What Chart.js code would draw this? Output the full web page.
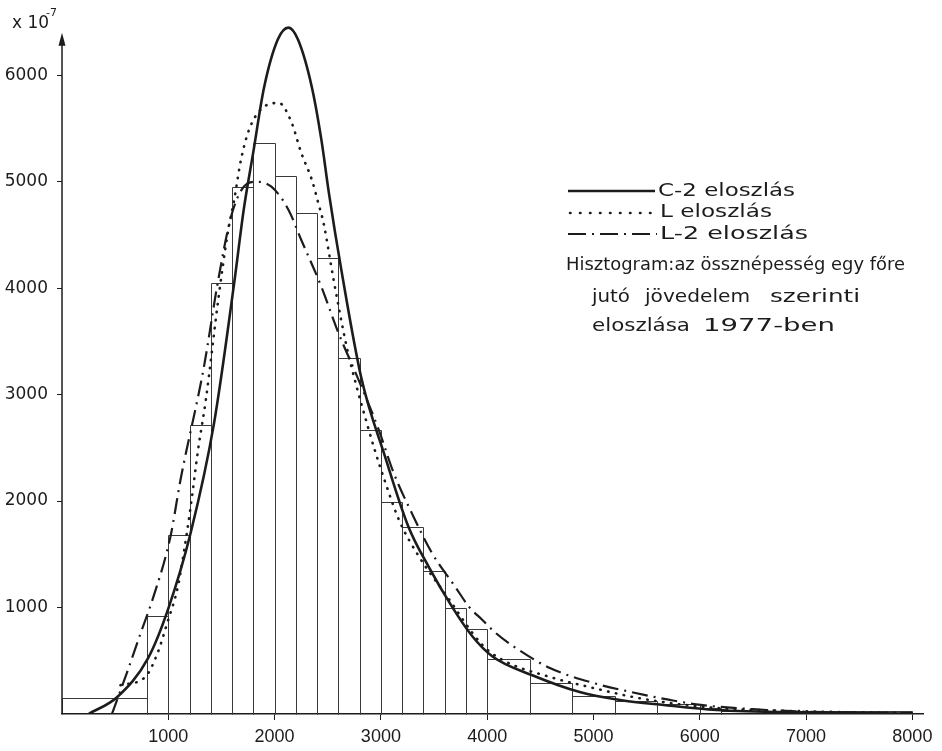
<!DOCTYPE html>
<html>
<head>
<meta charset="utf-8">
<script src="https://cdn.jsdelivr.net/npm/chart.js@4.4.0/dist/chart.umd.min.js"></script>
<style>
  html, body { margin: 0; padding: 0; background: #fff; }
  #wrap { width: 942px; height: 751px; }
</style>
</head>
<body>
<div id="wrap"><canvas id="chart" width="942" height="751"></canvas></div>
<script>
// histogram: bin edges (income) and heights (x 10^-7)
const binEdges = [0, 800, 1000, 1200, 1400, 1600, 1800, 2000, 2200, 2400, 2600, 2800, 3000,
                  3200, 3400, 3600, 3800, 4000, 4400, 4800, 5200, 5600, 6000, 6200, 8000];
const binHeights = [150, 920, 1680, 2710, 4050, 4950, 5360, 5050, 4710, 4280, 3340, 2670,
                    1990, 1760, 1345, 1000, 800, 517, 290, 170, 122, 90, 60, 25];

// C-2 eloszlás (solid)
const c2X = [250, 520, 810, 1000, 1210, 1430, 1620, 1710, 1800, 1900, 2030, 2130, 2220, 2350,
             2440, 2510, 2630, 2820, 3040, 3260, 3450, 3670, 3860, 4050, 4430, 4870, 5250, 5660, 6160, 7000, 8000];
const c2Y = [0, 160, 525, 990, 1700, 2730, 4050, 4740, 5280, 5880, 6335, 6447, 6335, 5890,
             5395, 4900, 4160, 3139, 2415, 1757, 1382, 1006, 730, 540, 362, 207, 132, 85, 38, 15, 5];

// L eloszlás (dotted)
const lX = [550, 785, 900, 990, 1090, 1145, 1210, 1280, 1353, 1470, 1560, 1620, 1684, 1760, 1870,
            2040, 2160, 2250, 2350, 2410, 2460, 2555, 2680, 2772, 2867, 2942, 3040, 3170, 3360, 3600,
            3955, 4145, 4590, 5000, 5370, 5720, 6160, 7000, 8000];
const lY = [270, 350, 575, 855, 1195, 1510, 1945, 2480, 2950, 3890, 4520, 4830, 5207, 5489, 5677,
            5740, 5555, 5273, 5019, 4803, 4615, 4079, 3440, 3073, 2735, 2480, 2180, 1823, 1476, 1137,
            648, 507, 348, 244, 160, 103, 56, 25, 8];

// L-2 eloszlás (dash-dot)
const l2X = [470, 620, 740, 850, 1020, 1115, 1335, 1465, 1590, 1710, 1826, 1970, 2130, 2250, 2440,
             2600, 2790, 2980, 3120, 3290, 3480, 3700, 3830, 3955, 4080, 4270, 4590, 5000, 5350, 5720,
             6010, 6500, 7000, 8000];
const l2Y = [0, 414, 760, 1070, 1665, 2200, 3260, 4050, 4670, 4953, 5000, 4953, 4737, 4455, 4013,
             3581, 3139, 2669, 2265, 1889, 1513, 1194, 1006, 883, 761, 620, 432, 291, 207, 132,
             85, 45, 22, 8];

const xTicks = [1000, 2000, 3000, 4000, 5000, 6000, 7000, 8000];
const yTicks = [1000, 2000, 3000, 4000, 5000, 6000];

const ink = '#1c1c1c';

function pts(xs, ys) {
    return xs.map((x, i) => ({ x: x, y: ys[i] }));
}

// draw text squeezed/stretched to a given width (the original lettering is wide)
function fitText(ctx, str, x, y, w) {
    const m = ctx.measureText(str).width;
    ctx.save();
    ctx.translate(x, y);
    ctx.scale(w / m, 1);
    ctx.fillText(str, 0, 0);
    ctx.restore();
}

const histogram = {
    id: 'histogram',
    beforeDatasetsDraw(chart) {
        const { ctx, scales: { x, y } } = chart;
        const px = v => Math.round(x.getPixelForValue(v)) + 0.5;
        const py = v => Math.round(y.getPixelForValue(v)) + 0.5;
        ctx.save();
        ctx.strokeStyle = '#3a3a3a';
        ctx.lineWidth = 1;
        const y0 = py(0);
        ctx.beginPath();
        for (let i = 0; i < binHeights.length; i++) {
            const xa = px(binEdges[i]);
            const xb = px(binEdges[i + 1]);
            const yt = py(binHeights[i]);
            ctx.moveTo(xa, y0);
            ctx.lineTo(xa, yt);
            ctx.lineTo(xb, yt);
            ctx.lineTo(xb, y0);
        }
        ctx.stroke();
        ctx.restore();
    }
};

const decorations = {
    id: 'decorations',
    afterDraw(chart) {
        const { ctx, scales: { x, y } } = chart;
        ctx.save();
        ctx.strokeStyle = ink;
        ctx.fillStyle = ink;

        // y axis with arrow
        const ax = x.getPixelForValue(0);
        const top = y.getPixelForValue(6400);
        ctx.lineWidth = 1.5;
        ctx.beginPath();
        ctx.moveTo(ax, y.getPixelForValue(0));
        ctx.lineTo(ax, top + 8);
        ctx.stroke();
        ctx.beginPath();
        ctx.moveTo(ax, top);
        ctx.lineTo(ax - 3.5, top + 13);
        ctx.lineTo(ax + 3.5, top + 13);
        ctx.closePath();
        ctx.fill();

        // unit label
        ctx.font = '17px "DejaVu Sans"';
        ctx.textBaseline = 'alphabetic';
        ctx.textAlign = 'left';
        ctx.fillText('x 10', 12, 28);
        ctx.font = '11px "DejaVu Sans"';
        ctx.fillText('-7', 46, 16);

        // legend
        const lx0 = 568, lx1 = 655;
        ctx.lineWidth = 2.5;
        ctx.beginPath();
        ctx.moveTo(lx0, 191); ctx.lineTo(lx1, 191);
        ctx.stroke();
        ctx.lineCap = 'round';
        ctx.lineWidth = 2.5;
        ctx.setLineDash([0.5, 9.5]);
        ctx.beginPath();
        ctx.moveTo(lx0 + 2, 213); ctx.lineTo(lx1, 213);
        ctx.stroke();
        ctx.lineCap = 'butt';
        ctx.lineWidth = 2.2;
        ctx.setLineDash([18, 6, 2, 6]);
        ctx.beginPath();
        ctx.moveTo(lx0, 234); ctx.lineTo(lx1 + 2, 234);
        ctx.stroke();
        ctx.setLineDash([]);

        ctx.font = '18px "DejaVu Sans"';
        ctx.textBaseline = 'middle';
        fitText(ctx, 'C-2 eloszlás', 658, 191, 137);
        fitText(ctx, 'L eloszlás', 660, 212, 112);
        fitText(ctx, 'L-2 eloszlás', 660, 234, 148);
        fitText(ctx, 'Hisztogram:az össznépesség egy főre', 566, 265, 339);
        fitText(ctx, 'jutó', 592, 297, 38);
        fitText(ctx, 'jövedelem', 645, 297, 105);
        fitText(ctx, 'szerinti', 770, 297, 90);
        fitText(ctx, 'eloszlása', 592, 326, 98);
        fitText(ctx, '1977-ben', 703, 326, 132);
        ctx.restore();
    }
};

new Chart(document.getElementById('chart'), {
    type: 'line',
    data: {
        datasets: [
            {
                label: 'C-2 eloszlás',
                data: pts(c2X, c2Y),
                borderColor: ink,
                borderWidth: 2.6,
                pointRadius: 0,
                cubicInterpolationMode: 'monotone'
            },
            {
                label: 'L eloszlás',
                data: pts(lX, lY),
                borderColor: ink,
                borderWidth: 2.6,
                borderDash: [0.5, 7.5],
                borderCapStyle: 'round',
                pointRadius: 0,
                cubicInterpolationMode: 'monotone'
            },
            {
                label: 'L-2 eloszlás',
                data: pts(l2X, l2Y),
                borderColor: ink,
                borderWidth: 2.2,
                borderDash: [16, 6, 2, 6],
                pointRadius: 0,
                cubicInterpolationMode: 'monotone'
            }
        ]
    },
    options: {
        responsive: false,
        animation: false,
        devicePixelRatio: 1,
        layout: { padding: { top: 22, right: 19, left: 0, bottom: 0 } },
        plugins: {
            legend: { display: false },
            tooltip: { enabled: false }
        },
        scales: {
            x: {
                type: 'linear',
                min: 0,
                max: 8100,
                afterFit(s) { s.height = 37; },
                afterBuildTicks(s) { s.ticks = [0].concat(xTicks).map(v => ({ value: v })); },
                border: { display: true, color: ink, width: 1.5 },
                grid: {
                    drawOnChartArea: false,
                    tickLength: 6,
                    color: ctx => (ctx.tick && ctx.tick.value > 0) ? ink : 'rgba(0,0,0,0)'
                },
                ticks: {
                    maxRotation: 0,
                    autoSkip: false,
                    padding: 6,
                    color: ink,
                    font: { family: '"Liberation Sans"', size: 18 },
                    callback: v => v > 0 ? String(v) : ''
                }
            },
            y: {
                min: 0,
                max: 6500,
                afterFit(s) { s.width = 62; },
                afterBuildTicks(s) { s.ticks = [0].concat(yTicks).map(v => ({ value: v })); },
                border: { display: false },
                grid: {
                    drawOnChartArea: false,
                    tickLength: 5,
                    color: ctx => (ctx.tick && ctx.tick.value > 0) ? ink : 'rgba(0,0,0,0)'
                },
                ticks: {
                    padding: 9,
                    color: ink,
                    font: { family: '"DejaVu Sans"', size: 17 },
                    callback: v => v > 0 ? String(v) : ''
                }
            }
        }
    },
    plugins: [histogram, decorations]
});
</script>
</body>
</html>
